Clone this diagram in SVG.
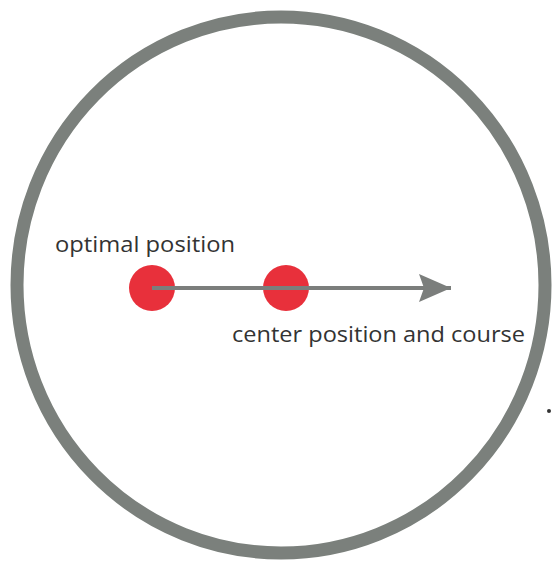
<svg xmlns="http://www.w3.org/2000/svg" width="552" height="561" viewBox="0 0 552 561">
<style>
.lbl{font-family:"Open Sans","Liberation Sans",sans-serif;font-size:22px;fill:#333}
.dot{fill:#e8303b}
</style>
<defs>
<marker id="ah" markerUnits="userSpaceOnUse" markerWidth="34" markerHeight="28" refX="32" refY="14" orient="auto">
<path d="M0,0 L32,14 L0,28 L5,14 Z" fill="#7b7e7c"/>
</marker>
</defs>
<rect width="552" height="561" fill="#fff"/>
<ellipse id="ring" cx="281" cy="285" rx="264" ry="268" fill="none" stroke="#7b807c" stroke-width="13"/>
<g id="optimal"><circle class="dot" cx="152" cy="288" r="23"/></g>
<g id="center"><circle class="dot" cx="286" cy="288" r="23"/></g>
<g id="connectors">
<line x1="152" y1="288" x2="451" y2="288" stroke="#7b7e7c" stroke-width="4" marker-end="url(#ah)"/>
</g>
<text class="lbl" x="55" y="252" textLength="180" lengthAdjust="spacingAndGlyphs">optimal position</text>
<text class="lbl" x="232" y="342" textLength="293" lengthAdjust="spacingAndGlyphs">center position and course</text>
<circle cx="549" cy="411" r="2" fill="#333"/>
</svg>
